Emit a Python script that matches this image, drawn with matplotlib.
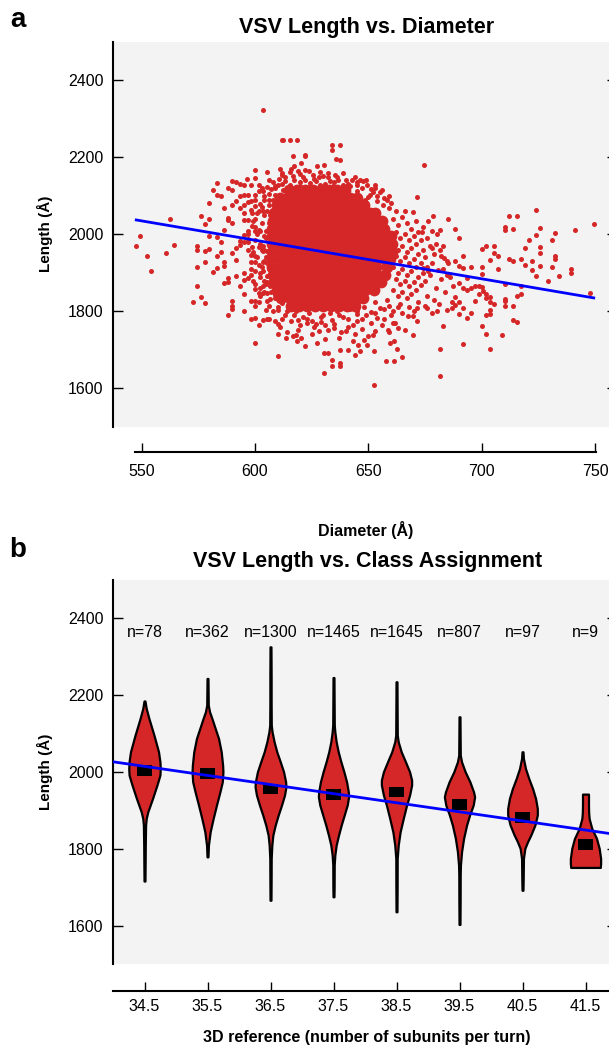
import matplotlib
matplotlib.use('Agg')
import matplotlib.pyplot as plt
import numpy as np

plt.rcParams['font.family'] = ['Liberation Sans', 'DejaVu Sans']

RED = '#d62728'
BLUE = '#0000ff'
BG = '#f3f3f3'

# ---------------- Panel a data (diameter Å, length Å) ----------------
outer_pts = [
    (603.5,2324),(611.9,2246),(547.3,1971),(549.1,1995),(552.5,1943),(554.3,1904),(562.6,2040),
    (560.9,1951),(564.4,1973),(572.8,1824),(574.5,1866),(576.2,1837),(577.9,1822),(574.5,1916),
    (574.5,1969),(574.5,1960),(576.3,2048),(577.9,2026),(579.7,2041),(577.9,1956),(579.7,1962),
    (579.7,1995),(577.9,1929),(581.3,1902),(579.5,2082),(581.3,2116),(583.1,2133),(583.1,2103),
    (584.8,2100),(583.1,1992),(584.8,1981),(583.1,1912),(584.8,1954),(583.1,1945),(586.5,1929),
    (586.5,1919),(586.5,2012),(586.5,2068),(588.1,2120),(589.8,2139),(589.8,2116),(588.1,2042),
    (588.1,2037),(589.8,2077),(589.8,2030),(589.8,1952),(588.1,1886),(586.5,1873),(588.1,1877),
    (588.2,1791),(589.8,1827),(589.8,1815),(589.8,1806),(591.6,1893),(591.6,1934),(591.6,1964),
    (593.2,1865),(593.2,1973),(595.0,1899),(595.0,1882),(595.0,1845),(595.0,1801),(596.7,1886),
    (598.4,1895),(598.4,1947),(598.4,1929),(598.4,1827),(598.4,1780),(600.1,1782),(600.1,1717),
    (600.1,1859),(600.1,1827),(600.1,1813),(601.7,1824),(601.7,1765),(603.5,1778),(605.3,1780),
    (605.0,1804),(605.3,1826),(610.3,1768),(610.3,1804),(610.3,1683),(591.5,2135),(593.2,2131),
    (595.0,2129),(596.6,2144),(598.4,2129),(600.1,2167),(600.1,2146),(601.7,2129),(605.1,2162),
    (605.3,2122),(595.0,2103),(596.7,2103),(598.4,2086),(595.0,2077),(596.7,2084),(598.4,2064),
    (593.2,2099),(591.5,2087),(593.2,2068),(595.0,2055),(595.0,2038),(596.7,2038),(598.5,2055),
    (600.1,2103),(601.7,2112),(603.5,2112),(600.1,2073),(601.7,2060),(603.5,2060),(605.3,2060),
    (595.0,1999),(596.7,1989),(596.7,2009),(598.5,2021),(600.1,2008),(601.7,2012),(593.2,1982),
    (595.0,1980),(596.7,1980),(598.5,1968),(600.1,1943),(600.1,1929),(601.7,1921),(601.7,1966),
    (603.5,1969),(603.5,1956),(603.5,1929),(605.3,1956),(605.3,1925),(603.5,1904),(605.3,1891),
    (605.3,1877),(603.5,1865),(605.3,1847),(601.7,1847),(603.5,1847),(606.8,1865),(606.8,1832),
    (608.7,1843),(608.7,1877),(608.7,1912),(608.7,1947),(606.8,2051),(608.7,2103),(608.7,2125),
    (610.3,2129),
    (612.2,2246),(615.4,2244),(618.6,2246),(616.9,2203),(622.0,2207),(622.0,2203),(620.4,2185),
    (633.9,2231),(633.9,2220),(637.5,2233),(635.7,2197),(637.5,2194),(630.6,2179),(674.7,2181),
    (671.3,2096),(669.8,2058),(676.4,2035),(678.4,2047),(685.0,2041),(681.6,2012),(680.1,2000),
    (673.5,2006),(683.1,1969),(681.6,1960),(677.9,1964),(683.5,1938),(684.8,1930),(684.5,1895),
    (680.9,1908),(676.4,1904),(674.2,1912),(671.3,1774),(669.8,1739),(683.1,1763),(681.6,1703),
    (681.6,1631),(652.6,1609),(657.8,1670),(661.3,1670),(662.8,1703),(664.7,1680),(659.5,1717),
    (661.3,1722),(649.2,1713),(646.3,1697),(644.1,1687),(645.6,1713),(652.6,1697),(641.1,1700),
    (637.5,1700),(633.8,1659),(637.5,1665),(637.5,1659),(632.3,1691),(630.6,1691),(630.6,1639),
    (633.8,1674),(627.2,1717),(622.0,1709),(618.6,1722),(620.4,1730),(616.9,1735),(613.6,1730),
    (663.2,1756),(666.1,1752),(677.9,1795),(680.1,1800),(684.5,1804),(675.7,1808),(669.8,1787),
    (671.3,1808),(667.6,1787),(658.8,1752),(661.7,1769),
    (724.0,2064),(712.2,2047),(715.4,2047),(710.3,2020),(710.3,2012),(713.9,2015),(725.7,2016),
    (749.5,2027),(741.0,2012),(732.5,2003),(724.0,1999),(730.9,1986),(720.7,1986),(725.7,1967),
    (725.7,1951),(718.9,1964),(705.3,1971),(701.9,1971),(700.1,1963),(705.3,1952),(707.0,1944),
    (703.6,1934),(711.9,1936),(713.9,1931),(717.2,1937),(722.2,1932),(732.5,1944),(732.5,1937),
    (718.9,1921),(725.7,1917),(722.2,1908),(730.9,1914),(724.0,1891),(729.1,1879),(734.2,1891),
    (739.2,1910),(739.2,1899),(707.0,1910),(710.4,1871),(717.3,1866),(717.2,1845),(715.4,1840),
    (747.8,1847),(710.4,1833),(710.4,1826),(710.4,1813),(713.9,1815),(713.9,1778),(715.4,1772),
    (708.8,1739),(701.9,1741),(700.1,1761),(703.6,1702),(691.6,1715),(688.4,2014),(690.1,1990),
    (691.6,1943),(688.4,1932),(690.1,1919),(691.9,1912),(695.1,1916),(700.1,1916),(700.1,1897),
    (693.4,1886),(696.9,1865),(698.6,1865),(700.1,1862),(695.1,1860),(693.4,1856),(691.9,1860),
    (690.1,1873),(687.5,1865),(696.9,1826),(698.6,1845),(700.7,1852),(701.9,1845),(701.9,1834),
    (703.6,1836),(703.6,1824),(705.4,1819),(703.6,1804),(701.9,1791),(703.6,1793),(695.1,1795),
    (693.4,1782),(690.1,1793),(691.9,1808),(690.1,1824),(688.4,1817),(686.7,1808),(686.7,1824),
    (688.4,1836),
]

fringe_pts = [
    # upper edge of the dense cluster
    (611.7,2155),(615.4,2162),(616.9,2151),(613.2,2138),(619.1,2165),(622.0,2168),(625.7,2155),
    (627.2,2177),(628.6,2162),(630.1,2151),(632.3,2148),(635.3,2155),(636.7,2142),(638.9,2129),
    (642.6,2142),(646.3,2142),(647.8,2138),(649.2,2127),(652.9,2127),(650.7,2103),(644.8,2112),
    (640.4,2116),(634.5,2125),(628.6,2129),(624.2,2133),(619.8,2136),(615.4,2129),(612.5,2116),
    (617.6,2112),(622.8,2116),(631.6,2112),(637.5,2103),(643.4,2099),(648.5,2090),(653.6,2086),
    (656.6,2077),(626.4,2103),(619.8,2099),(613.9,2099),(634.5,2094),(640.4,2086),(630.1,2090),
    (646.3,2077),(623.5,2090),(615.4,2086),(609,2120),(606,2105),(608,2135),(604,2090),(659,2068),
    (662,2060),(657,2095),(655,2110),(651,2118),(645,2128),(633,2138),(626,2145),(621,2150),
    (613,2150),(618,2124),(636,2120),(642,2125),(610.5,2145),(624,2122),(629,2118),(650,2098),
    (654,2100),(660,2082),(644,2150),(639,2160),(617,2178),(611,2170),
    (612,2160),(616,2170),(620,2158),(624,2165),(628,2150),(632,2160),(636,2150),(640,2140),
    (645,2135),(649,2140),(653,2120),(656,2115),(659,2100),(612,2130),(617,2140),(622,2142),
    (627,2138),(631,2130),(635,2135),(641,2132),(647,2120),(652,2110),(658,2090),(620,2125),
    (626,2118),
    # lower edge
    (612,1822),(615,1810),(618,1800),(621,1815),(624,1795),(627,1808),(630,1790),(633,1818),
    (636,1800),(639,1785),(642,1805),(645,1792),(648,1812),(651,1798),(654,1782),(657,1805),
    (660,1790),(663,1812),(613,1790),(616,1775),(620,1765),(623,1780),(626,1760),(629,1772),
    (632,1752),(635,1768),(638,1745),(641,1760),(644,1740),(647,1755),(650,1735),(653,1750),
    (656,1765),(659,1745),(611,1760),(614,1745),(618,1738),(625,1742),(631,1728),(637,1730),
    (643,1722),(648,1725),(652,1738),(608,1800),(606,1780),(609,1775),(622,1830),(628,1835),
    (640,1830),(646,1828),(653,1825),(658,1830),(634,1778),(645,1775),(619,1752),(628,1750),
    (661,1770),(665,1795),(606,1815),(610,1740),
    (610,1810),(614,1800),(617,1790),(621,1785),(625,1775),(629,1785),(633,1795),(637,1790),
    (641,1780),(645,1800),(649,1790),(653,1795),(657,1780),(661,1800),(619,1778),(627,1768),
    (635,1756),(643,1765),(651,1770),(640,1748),(612,1780),(623,1770),(631,1765),(647,1780),
    (655,1808),(659,1815),
    # right side
    (661,2040),(663,2025),(665,2045),(667,2030),(669,2015),(662,2005),(664,1990),(666,2000),
    (668,1985),(670,1995),(672,2005),(661,1975),(663,1960),(665,1970),(667,1955),(669,1965),
    (671,1975),(673,1985),(662,1945),(664,1930),(666,1940),(668,1925),(670,1935),(672,1950),
    (674,1960),(661,1915),(663,1900),(665,1910),(667,1895),(669,1905),(671,1915),(673,1925),
    (675,1940),(662,1885),(664,1870),(666,1880),(668,1865),(670,1875),(672,1890),(674,1900),
    (676,1915),(661,1855),(663,1840),(665,1850),(667,1835),(669,1845),(671,1855),(673,1868),
    (675,1880),(677,1895),(678,1925),(679,1950),(680,1975),(677,1970),(676,1990),(678,2010),
    (674,2020),(671,2035),(666,2060),(664,1820),(668,1810),(672,1825),(676,1840),(680,1860),
    (682,1885),(683,1910),(679,1830),(684,1850),(681,1820),(686,1890),(685,1925),(682,1945),
    (670,1800),(675,1815),
    # left side
    (604,2050),(606,2030),(608,2010),(605,1990),(607,1970),(609,1950),(604,1930),(606,1910),
    (608,1890),(605,1870),(607,1850),(609,1835),(603,2070),(606,2075),(609,2060),(610,2040),
    (608,2090),(610,1870),(602,1900),(603,1960),(601,2000),(600,2040),(599,1880),(602,1840),
    (610,1905),
    (600,2090),(602,2080),(604,2100),(601,2055),(603,2030),(600,2020),(602,2010),(604,1995),
    (600,1985),(602,1975),(604,1960),(599,1955),(601,1940),(603,1915),(600,1905),(602,1890),
    (604,1880),(600,1870),(602,1860),(604,1850),(598,1910),(597,1960),(599,2035),(597,2000),
    (605,1940),(605,2010),(606,2090),(603,2120),(606,2140),(607,2118),
]

# densest part of the cluster, read row by row (length, diameters)
core_row_len = [2115, 2095, 2075, 2055, 2035, 2015, 1995, 1975, 1955, 1935, 1915, 1895,
                1875, 1855, 1835, 1815]
core_row_diam = [
    [615, 618.5, 622, 625.5, 629, 632.5, 636, 639.5],
    [611, 614, 617.5, 621, 624.5, 628, 631.5, 635, 638.5, 642, 645],
    [609.5, 613, 616.5, 620, 623.5, 627, 630.5, 634, 637.5, 641, 644.5, 648],
    [608.5, 612, 615.5, 619, 622.5, 626, 629.5, 633, 636.5, 640, 643.5, 647, 650.5, 653],
    [608, 611.5, 615, 618.5, 622, 625.5, 629, 632.5, 636, 639.5, 643, 646.5, 650, 653.5, 656],
    [607.5, 611.5, 615, 618.5, 622, 625.5, 629, 632.5, 636, 639.5, 643, 646.5, 650, 653.5, 657],
    [607.5, 611.5, 615, 618.5, 622, 625.5, 629, 632.5, 636, 639.5, 643, 646.5, 650, 653.5, 657, 660],
    [607.5, 611.5, 615, 618.5, 622, 625.5, 629, 632.5, 636, 639.5, 643, 646.5, 650, 653.5, 657, 660.5],
    [607.5, 611.5, 615, 618.5, 622, 625.5, 629, 632.5, 636, 639.5, 643, 646.5, 650, 653.5, 657, 660.5],
    [607.5, 611.5, 615, 618.5, 622, 625.5, 629, 632.5, 636, 639.5, 643, 646.5, 650, 653.5, 657, 659.5],
    [607.5, 611.5, 615, 618.5, 622, 625.5, 629, 632.5, 636, 639.5, 643, 646.5, 650, 653.5, 658],
    [608, 612, 615.5, 619, 622.5, 626, 629.5, 633, 636.5, 640, 643.5, 647, 650.5, 654, 657.5],
    [608.5, 612.5, 616, 619.5, 623, 626.5, 630, 633.5, 637, 640.5, 644, 647.5, 651, 655.5],
    [609.5, 613.5, 617, 620.5, 624, 627.5, 631, 634.5, 638, 641.5, 645, 648.5, 652.5],
    [611.5, 615.5, 619, 622.5, 626, 629.5, 633, 636.5, 640, 643.5, 647.5],
    [616, 619.5, 623, 626.5, 630, 633.5, 637, 640.5, 644],
]

fit_a_slope = -1.004
fit_a_intercept = 2587.2
fit_a_range = [547, 750]

# ---------------- Panel b data ----------------
classes = [34.5, 35.5, 36.5, 37.5, 38.5, 39.5, 40.5, 41.5]
counts = [78, 362, 1300, 1465, 1645, 807, 97, 9]
medians = [2003, 1996, 1956, 1942, 1948, 1916, 1882, 1812]

violin_len = [
    [2185, 2165.5, 2139.5, 2096, 2052.7, 2026.6, 2009, 1992, 1965.9, 1931, 1896.4, 1879, 1861.7, 1809.6, 1757.5, 1716],
    [2243.6, 2205, 2174, 2157, 2139.5, 2113.4, 2087.4, 2052.7, 2018, 2000.6, 1974.5, 1948.5, 1913.8, 1879, 1844.3, 1809.6, 1779],
    [2326, 2250, 2180, 2122, 2104.8, 2078.7, 2052.7, 2026.6, 2000.6, 1974.5, 1961.5, 1939.8, 1913.8, 1887.8, 1861.7, 1835.7, 1809.6, 1775, 1723, 1666],
    [2246, 2180, 2122, 2104.8, 2078.7, 2052.7, 2026.6, 2000.6, 1974.5, 1948.5, 1935.5, 1913.8, 1887.8, 1861.7, 1835.7, 1809.6, 1783.6, 1757.5, 1700, 1675],
    [2235, 2160, 2096, 2078.7, 2052.7, 2026.6, 2000.6, 1979, 1966, 1939.8, 1913.8, 1879, 1844, 1809.6, 1775, 1700, 1636],
    [2143.8, 2090, 2044, 2026.6, 2000.6, 1974.5, 1948.5, 1935.5, 1913.8, 1887.8, 1861.7, 1827, 1792, 1757.5, 1731.5, 1660, 1603],
    [2052.7, 2035, 2009, 1983, 1957, 1931, 1905, 1888, 1862, 1836, 1818.3, 1801, 1775, 1723, 1692],
    [1942.4, 1914, 1895, 1879, 1853, 1827, 1801, 1775, 1762, 1751.5],
]
violin_wid = [
    [0.03, 0.11, 0.28, 0.60, 0.89, 0.98, 1.0, 0.98, 0.79, 0.51, 0.21, 0.11, 0.07, 0.05, 0.04, 0.03],
    [0.03, 0.04, 0.05, 0.13, 0.28, 0.49, 0.70, 0.87, 0.96, 0.98, 0.94, 0.79, 0.57, 0.36, 0.17, 0.06, 0.03],
    [0.03, 0.04, 0.04, 0.05, 0.10, 0.23, 0.40, 0.62, 0.83, 0.96, 0.98, 0.89, 0.70, 0.49, 0.30, 0.15, 0.085, 0.045, 0.04, 0.03],
    [0.03, 0.04, 0.05, 0.085, 0.17, 0.30, 0.47, 0.66, 0.83, 0.94, 0.96, 0.87, 0.68, 0.49, 0.32, 0.17, 0.085, 0.045, 0.04, 0.03],
    [0.03, 0.04, 0.05, 0.11, 0.30, 0.57, 0.83, 0.96, 0.96, 0.83, 0.64, 0.43, 0.23, 0.11, 0.045, 0.04, 0.03],
    [0.03, 0.04, 0.05, 0.13, 0.36, 0.66, 0.89, 0.96, 0.87, 0.64, 0.45, 0.26, 0.13, 0.06, 0.045, 0.04, 0.03],
    [0.03, 0.06, 0.19, 0.40, 0.64, 0.83, 0.94, 0.94, 0.79, 0.53, 0.32, 0.15, 0.06, 0.045, 0.03],
    [0.19, 0.19, 0.20, 0.23, 0.40, 0.70, 0.87, 0.96, 0.96, 0.94],
]

fit_b_slope = -23.7
fit_b_intercept = 2832.4

y_ticks = [1600, 1800, 2000, 2200, 2400]
x_ticks_a = [550, 600, 650, 700, 750]

# ---------------- Figure ----------------
W, H = 609, 1047
fig = plt.figure(figsize=(W / 100, H / 100), dpi=100)


def rect(l, t, r, b):
    return [l / W, 1 - b / H, (r - l) / W, (b - t) / H]


axA = fig.add_axes(rect(113, 42, 617, 426.7))
axB = fig.add_axes(rect(113, 580, 617, 964))


def style(ax, outward, bounds, xpad):
    ax.set_facecolor(BG)
    ax.spines['top'].set_visible(False)
    ax.spines['right'].set_visible(False)
    ax.spines['left'].set_linewidth(1.5)
    ax.spines['bottom'].set_linewidth(1.5)
    ax.spines['bottom'].set_position(('outward', outward))
    ax.spines['bottom'].set_bounds(*bounds)
    ax.tick_params(axis='y', direction='in', length=7.2, width=1.0, left=True,
                   right=True, labelsize=11.5, pad=7)
    ax.tick_params(axis='x', direction='in', length=6.8, width=1.0,
                   labelsize=11.5, pad=xpad)
    ax.set_yticks(y_ticks)
    ax.set_ylim(1500, 2500)


# ---- panel a ----
od, ol = zip(*(outer_pts + fringe_pts))
cd = [d for row in core_row_diam for d in row]
cl = [L for L, row in zip(core_row_len, core_row_diam) for _ in row]
axA.scatter(cd, cl, s=72, color=RED, linewidths=0, zorder=2)
axA.scatter(od, ol, s=13, color=RED, linewidths=0, zorder=2)
fx = np.array(fit_a_range, dtype=float)
axA.plot(fx, fit_a_intercept + fit_a_slope * fx, color=BLUE, lw=2, zorder=4,
         solid_capstyle='butt')
axA.set_xlim(537.34, 759.66)
axA.set_xticks(x_ticks_a)
style(axA, 18.4, (547, 750.5), 8.3)

# ---- panel b ----
for c, Ls, ws in zip(classes, violin_len, violin_wid):
    Ls = np.asarray(Ls, dtype=float)
    hw = np.asarray(ws, dtype=float) * 0.25
    coll = axB.fill_betweenx(Ls, c - hw, c + hw, facecolor=RED, edgecolor='black',
                             linewidth=1.6, zorder=2)
    coll.set_joinstyle('round')
axB.bar(classes, 28, bottom=np.array(medians) - 14, width=0.24, color='black',
        zorder=3)
bx = np.array([34.0, 42.0])
axB.plot(bx, fit_b_intercept + fit_b_slope * bx, color=BLUE, lw=2, zorder=4)
for c, n in zip(classes, counts):
    axB.text(c, 2362, f'n={n}', ha='center', va='center', fontsize=11.5)
axB.set_xlim(34, 42)
axB.set_xticks(classes)
axB.set_xticklabels([f'{c:.1f}' for c in classes])
style(axB, 19.2, (34, 42), 6)

# ---- texts ----
def ftext(x, y, s, **kw):
    fig.text(x / W, 1 - y / H, s, **kw)

ftext(18, 20, 'a', fontsize=20, fontweight='bold', ha='center', va='center')
ftext(18, 550, 'b', fontsize=20, fontweight='bold', ha='center', va='center')
ftext(367, 33, 'VSV Length vs. Diameter', fontsize=15.5, fontweight='bold',
      ha='center', va='baseline')
ftext(368, 567, 'VSV Length vs. Class Assignment', fontsize=15.5,
      fontweight='bold', ha='center', va='baseline')
ftext(366, 536, 'Diameter (Å)', fontsize=11.5, fontweight='bold', ha='center',
      va='baseline')
ftext(367, 1042, '3D reference (number of subunits per turn)', fontsize=11.5,
      fontweight='bold', ha='center', va='baseline')
ftext(45, 234, 'Length (Å)', fontsize=11, fontweight='bold', ha='center',
      va='center', rotation=90)
ftext(45, 772, 'Length (Å)', fontsize=11, fontweight='bold', ha='center',
      va='center', rotation=90)

fig.savefig('out.png', dpi=100)
